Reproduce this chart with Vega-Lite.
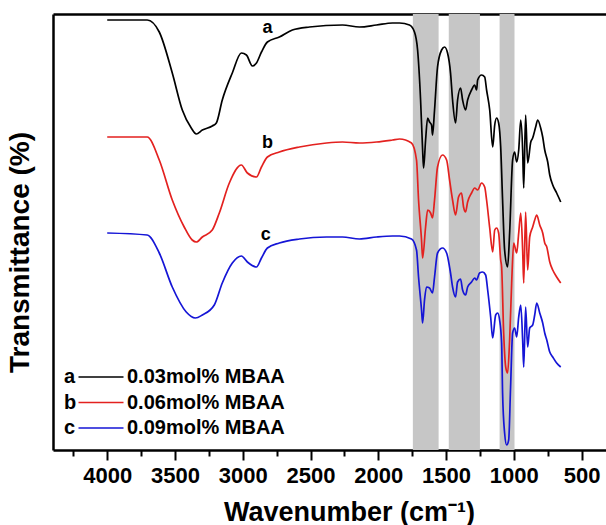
{
"$schema": "https://vega.github.io/schema/vega-lite/v6.json",
"width": 553,
"height": 436,
"autosize": "none",
"padding": {"left": 53, "top": 14, "right": 0, "bottom": 75},
"background": "white",
"datasets": {
"bands": [{"x1": 1745, "x2": 1555}, {"x1": 1480, "x2": 1250}, {"x1": 1105, "x2": 995}],
"labels": [{"letter": "a", "w": 2818, "t": 422}, {"letter": "b", "w": 2818, "t": 307}, {"letter": "c", "w": 2830, "t": 215}],
"spec": [
{"s":"a","w":4000,"t":430},{"s":"a","w":3705,"t":430},{"s":"a","w":3616,"t":418},{"s":"a","w":3520,"t":377},{"s":"a","w":3446,"t":340},{"s":"a","w":3380,"t":322},{"s":"a","w":3343,"t":316},{"s":"a","w":3298,"t":320},{"s":"a","w":3225,"t":324},{"s":"a","w":3195,"t":327},{"s":"a","w":3151,"t":350},{"s":"a","w":3077,"t":377},{"s":"a","w":3010,"t":397},{"s":"a","w":2973,"t":395},{"s":"a","w":2929,"t":384},{"s":"a","w":2899,"t":387},{"s":"a","w":2862,"t":398},{"s":"a","w":2818,"t":408},{"s":"a","w":2730,"t":413},{"s":"a","w":2634,"t":420},{"s":"a","w":2508,"t":423},{"s":"a","w":2264,"t":425},{"s":"a","w":2139,"t":423},{"s":"a","w":2013,"t":425},{"s":"a","w":1895,"t":427},{"s":"a","w":1843,"t":427},{"s":"a","w":1770,"t":425},{"s":"a","w":1733,"t":418},{"s":"a","w":1710,"t":400},{"s":"a","w":1688,"t":350},{"s":"a","w":1673,"t":300},{"s":"a","w":1666,"t":282},{"s":"a","w":1651,"t":310},{"s":"a","w":1636,"t":332},{"s":"a","w":1622,"t":328},{"s":"a","w":1607,"t":325},{"s":"a","w":1600,"t":315},{"s":"a","w":1585,"t":340},{"s":"a","w":1563,"t":383},{"s":"a","w":1533,"t":400},{"s":"a","w":1511,"t":403},{"s":"a","w":1489,"t":397},{"s":"a","w":1467,"t":377},{"s":"a","w":1452,"t":350},{"s":"a","w":1430,"t":327},{"s":"a","w":1415,"t":350},{"s":"a","w":1393,"t":362},{"s":"a","w":1378,"t":350},{"s":"a","w":1356,"t":340},{"s":"a","w":1341,"t":350},{"s":"a","w":1312,"t":360},{"s":"a","w":1289,"t":365},{"s":"a","w":1275,"t":360},{"s":"a","w":1267,"t":370},{"s":"a","w":1238,"t":375},{"s":"a","w":1215,"t":373},{"s":"a","w":1201,"t":360},{"s":"a","w":1178,"t":340},{"s":"a","w":1156,"t":303},{"s":"a","w":1141,"t":325},{"s":"a","w":1127,"t":332},{"s":"a","w":1112,"t":327},{"s":"a","w":1097,"t":303},{"s":"a","w":1083,"t":250},{"s":"a","w":1068,"t":200},{"s":"a","w":1046,"t":183},{"s":"a","w":1031,"t":217},{"s":"a","w":1009,"t":290},{"s":"a","w":994,"t":298},{"s":"a","w":979,"t":288},{"s":"a","w":964,"t":300},{"s":"a","w":949,"t":330},{"s":"a","w":935,"t":300},{"s":"a","w":927,"t":262},{"s":"a","w":913,"t":335},{"s":"a","w":898,"t":287},{"s":"a","w":875,"t":308},{"s":"a","w":861,"t":312},{"s":"a","w":839,"t":323},{"s":"a","w":824,"t":330},{"s":"a","w":802,"t":322},{"s":"a","w":787,"t":313},{"s":"a","w":772,"t":300},{"s":"a","w":750,"t":288},{"s":"a","w":735,"t":275},{"s":"a","w":713,"t":265},{"s":"a","w":684,"t":257},{"s":"a","w":654,"t":248},
{"s":"b","w":4000,"t":313},{"s":"b","w":3705,"t":313},{"s":"b","w":3616,"t":290},{"s":"b","w":3520,"t":250},{"s":"b","w":3432,"t":223},{"s":"b","w":3373,"t":210},{"s":"b","w":3343,"t":208},{"s":"b","w":3298,"t":213},{"s":"b","w":3225,"t":220},{"s":"b","w":3173,"t":237},{"s":"b","w":3099,"t":267},{"s":"b","w":3010,"t":285},{"s":"b","w":2966,"t":277},{"s":"b","w":2899,"t":273},{"s":"b","w":2862,"t":283},{"s":"b","w":2818,"t":293},{"s":"b","w":2730,"t":298},{"s":"b","w":2582,"t":303},{"s":"b","w":2382,"t":307},{"s":"b","w":2264,"t":308},{"s":"b","w":2139,"t":307},{"s":"b","w":2013,"t":308},{"s":"b","w":1895,"t":310},{"s":"b","w":1843,"t":311},{"s":"b","w":1755,"t":307},{"s":"b","w":1718,"t":290},{"s":"b","w":1703,"t":250},{"s":"b","w":1681,"t":210},{"s":"b","w":1673,"t":192},{"s":"b","w":1651,"t":223},{"s":"b","w":1636,"t":240},{"s":"b","w":1614,"t":237},{"s":"b","w":1600,"t":232},{"s":"b","w":1585,"t":250},{"s":"b","w":1563,"t":283},{"s":"b","w":1526,"t":295},{"s":"b","w":1496,"t":290},{"s":"b","w":1474,"t":270},{"s":"b","w":1452,"t":250},{"s":"b","w":1430,"t":235},{"s":"b","w":1408,"t":253},{"s":"b","w":1386,"t":257},{"s":"b","w":1371,"t":243},{"s":"b","w":1356,"t":238},{"s":"b","w":1341,"t":248},{"s":"b","w":1312,"t":257},{"s":"b","w":1289,"t":262},{"s":"b","w":1267,"t":260},{"s":"b","w":1238,"t":267},{"s":"b","w":1215,"t":263},{"s":"b","w":1201,"t":250},{"s":"b","w":1178,"t":222},{"s":"b","w":1156,"t":198},{"s":"b","w":1141,"t":220},{"s":"b","w":1127,"t":222},{"s":"b","w":1112,"t":217},{"s":"b","w":1097,"t":190},{"s":"b","w":1090,"t":183},{"s":"b","w":1075,"t":117},{"s":"b","w":1060,"t":83},{"s":"b","w":1046,"t":77},{"s":"b","w":1031,"t":110},{"s":"b","w":1016,"t":167},{"s":"b","w":1001,"t":207},{"s":"b","w":979,"t":197},{"s":"b","w":964,"t":217},{"s":"b","w":949,"t":237},{"s":"b","w":935,"t":200},{"s":"b","w":927,"t":167},{"s":"b","w":913,"t":238},{"s":"b","w":898,"t":180},{"s":"b","w":883,"t":213},{"s":"b","w":861,"t":223},{"s":"b","w":846,"t":230},{"s":"b","w":831,"t":235},{"s":"b","w":809,"t":225},{"s":"b","w":787,"t":217},{"s":"b","w":772,"t":207},{"s":"b","w":757,"t":203},{"s":"b","w":735,"t":188},{"s":"b","w":713,"t":180},{"s":"b","w":684,"t":173},{"s":"b","w":654,"t":167},
{"s":"c","w":4000,"t":217},{"s":"c","w":3705,"t":215},{"s":"c","w":3616,"t":197},{"s":"c","w":3520,"t":163},{"s":"c","w":3417,"t":138},{"s":"c","w":3350,"t":132},{"s":"c","w":3298,"t":135},{"s":"c","w":3210,"t":145},{"s":"c","w":3151,"t":167},{"s":"c","w":3077,"t":187},{"s":"c","w":3010,"t":194},{"s":"c","w":2966,"t":188},{"s":"c","w":2899,"t":183},{"s":"c","w":2862,"t":192},{"s":"c","w":2818,"t":202},{"s":"c","w":2730,"t":207},{"s":"c","w":2582,"t":211},{"s":"c","w":2382,"t":213},{"s":"c","w":2264,"t":213},{"s":"c","w":2139,"t":211},{"s":"c","w":2013,"t":213},{"s":"c","w":1895,"t":214},{"s":"c","w":1843,"t":214},{"s":"c","w":1755,"t":211},{"s":"c","w":1718,"t":200},{"s":"c","w":1703,"t":173},{"s":"c","w":1681,"t":140},{"s":"c","w":1673,"t":127},{"s":"c","w":1659,"t":150},{"s":"c","w":1644,"t":163},{"s":"c","w":1622,"t":162},{"s":"c","w":1600,"t":157},{"s":"c","w":1585,"t":173},{"s":"c","w":1563,"t":197},{"s":"c","w":1526,"t":202},{"s":"c","w":1496,"t":197},{"s":"c","w":1467,"t":177},{"s":"c","w":1452,"t":163},{"s":"c","w":1430,"t":153},{"s":"c","w":1415,"t":168},{"s":"c","w":1393,"t":171},{"s":"c","w":1378,"t":160},{"s":"c","w":1356,"t":155},{"s":"c","w":1341,"t":163},{"s":"c","w":1312,"t":168},{"s":"c","w":1289,"t":172},{"s":"c","w":1275,"t":170},{"s":"c","w":1253,"t":177},{"s":"c","w":1230,"t":178},{"s":"c","w":1208,"t":175},{"s":"c","w":1193,"t":160},{"s":"c","w":1171,"t":133},{"s":"c","w":1156,"t":112},{"s":"c","w":1134,"t":135},{"s":"c","w":1119,"t":137},{"s":"c","w":1105,"t":130},{"s":"c","w":1090,"t":107},{"s":"c","w":1083,"t":57},{"s":"c","w":1068,"t":17},{"s":"c","w":1053,"t":5},{"s":"c","w":1038,"t":10},{"s":"c","w":1024,"t":63},{"s":"c","w":1009,"t":117},{"s":"c","w":994,"t":122},{"s":"c","w":979,"t":113},{"s":"c","w":964,"t":133},{"s":"c","w":949,"t":145},{"s":"c","w":935,"t":110},{"s":"c","w":927,"t":83},{"s":"c","w":913,"t":143},{"s":"c","w":898,"t":103},{"s":"c","w":883,"t":122},{"s":"c","w":861,"t":125},{"s":"c","w":846,"t":135},{"s":"c","w":831,"t":147},{"s":"c","w":809,"t":137},{"s":"c","w":787,"t":127},{"s":"c","w":772,"t":117},{"s":"c","w":757,"t":110},{"s":"c","w":735,"t":98},{"s":"c","w":713,"t":93},{"s":"c","w":684,"t":87},{"s":"c","w":654,"t":83}
]
},
"layer": [
{
"data": {"name": "bands"},
"mark": {"type": "rect", "color": "#c6c6c6"},
"encoding": {
"x": {"field": "x1", "type": "quantitative", "scale": {"domain": [320, 4400], "reverse": true, "nice": false, "zero": false},
"axis": {"orient": "bottom", "values": [4000, 3500, 3000, 2500, 2000, 1500, 1000, 500], "format": "d",
"tickSize": 10, "tickWidth": 2, "domainWidth": 2.5, "labelFontSize": 22, "labelPadding": 22, "labelBaseline": "alphabetic",
"title": "Wavenumber (cm⁻¹)", "titleFontSize": 27, "titleX": 296, "titleY": 70, "titleBaseline": "alphabetic"}},
"x2": {"field": "x2"}
}
},
{
"data": {"name": "spec"},
"mark": {"type": "line", "strokeWidth": 1.7, "interpolate": "monotone"},
"encoding": {
"x": {"field": "w", "type": "quantitative",
"axis": {"orient": "bottom", "values": [4250, 3750, 3250, 2750, 2250, 1750, 1250, 750], "labels": false, "domain": false, "tickSize": 6, "tickWidth": 2, "title": null}},
"y": {"field": "t", "type": "quantitative", "scale": {"domain": [0, 436], "nice": false, "zero": false},
"axis": {"orient": "left", "labels": false, "ticks": false, "domainWidth": 2.5, "title": "Transmittance (%)", "titleFontSize": 28, "titlePadding": 19, "titleY": 238}},
"color": {"field": "s", "type": "nominal", "scale": {"domain": ["a", "b", "c"], "range": ["#000000", "#e3211f", "#1515d6"]},
"legend": {"orient": "none", "legendX": 38, "legendY": 353, "title": null, "symbolType": "M-5,0H5", "symbolSize": 81, "symbolStrokeWidth": 1.5, "symbolFillColor": "transparent",
"labelFontSize": 20, "labelOffset": 16, "rowPadding": 5.5,
"labelExpr": "{'a': '0.03mol% MBAA', 'b': '0.06mol% MBAA', 'c': '0.09mol% MBAA'}[datum.label]"}}
}
},
{
"data": {"name": "labels"},
"mark": {"type": "text", "fontSize": 18, "fontWeight": "bold", "font": "Liberation Sans", "color": "black"},
"encoding": {
"x": {"field": "w", "type": "quantitative", "axis": {"orient": "top", "labels": false, "ticks": false, "title": null, "domainWidth": 2.5}},
"y": {"field": "t", "type": "quantitative"},
"text": {"field": "letter"}
}
},
{
"data": {"name": "labels"},
"mark": {"type": "point", "opacity": 0},
"encoding": {
"x": {"field": "w", "type": "quantitative", "axis": null},
"y": {"field": "t", "type": "quantitative"},
"shape": {"field": "letter", "type": "nominal",
"legend": {"orient": "none", "legendX": -9, "legendY": 353, "title": null, "symbolSize": 0, "symbolOpacity": 0, "labelFontSize": 20, "labelOffset": 0, "rowPadding": 5.5}}
}
}
],
"resolve": {"axis": {"x": "independent"}},
"config": {
"view": {"stroke": null},
"axis": {"grid": false, "domainColor": "black", "tickColor": "black", "labelColor": "black", "titleColor": "black",
"labelFont": "Liberation Sans", "titleFont": "Liberation Sans", "labelFontWeight": "bold", "titleFontWeight": "bold"},
"legend": {"labelFont": "Liberation Sans", "labelFontWeight": "bold", "labelColor": "black"}
}
}
